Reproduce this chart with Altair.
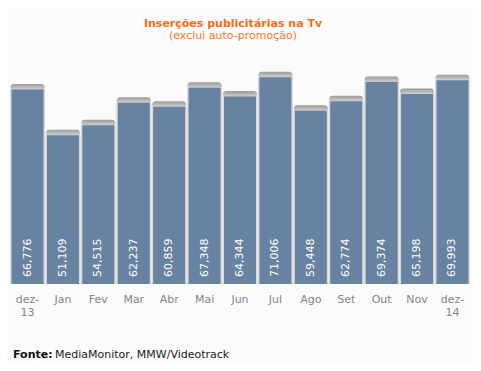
import altair as alt
import pandas as pd

months = ["dez-13", "Jan", "Fev", "Mar", "Abr", "Mai", "Jun", "Jul", "Ago", "Set", "Out", "Nov", "dez-14"]
values = [66776, 51109, 54515, 62237, 60859, 67348, 64344, 71006, 59448, 62774, 69374, 65198, 69993]

df = pd.DataFrame({"mes": months, "v": values})

FONT = "DejaVu Sans"

x = alt.X("mes:N", sort=months, title=None,
          scale=alt.Scale(paddingInner=0.09, paddingOuter=0.04),
          axis=alt.Axis(labelAngle=0, domain=False, ticks=False, labelPadding=9,
                        labelColor="#858585", labelFont=FONT, labelFontSize=11,
                        labelLineHeight=13,
                        labelExpr="indexof(datum.value,'-')>0 ? [substring(datum.value,0,indexof(datum.value,'-')+1), substring(datum.value,indexof(datum.value,'-')+1)] : datum.value"))
y = alt.Y("v:Q", scale=alt.Scale(domain=[0, 80000]), axis=None)

base = alt.Chart(df)

side = base.mark_bar(color="#d8d8d8", size=35).encode(x=x, y=y)
cap = base.mark_tick(
    size=34, thickness=7, yOffset=-2, cornerRadius=3, opacity=1,
    color=alt.Gradient(gradient="linear",
                       stops=[alt.GradientStop(color="#9a9a9a", offset=0),
                              alt.GradientStop(color="#c4c4c4", offset=0.6),
                              alt.GradientStop(color="#d8d8d8", offset=1)],
                       x1=0, x2=0, y1=0, y2=1)
).encode(x=x, y=y)
bars = base.mark_bar(color="#6883a2", size=32).encode(x=x, y=y)
labels = base.mark_text(angle=270, align="left", baseline="middle", color="white",
                        font=FONT, fontSize=11, dx=7).encode(
    x=x, y=alt.value(233), text=alt.Text("v:Q", format=","))

src_bold = alt.Chart(pd.DataFrame({"t": ["Fonte:"]})).mark_text(
    align="left", baseline="middle", font=FONT, fontSize=11, fontWeight="bold", color="#111"
).encode(x=alt.value(3), y=alt.value(304), text="t:N")
src = alt.Chart(pd.DataFrame({"t": ["MediaMonitor, MMW/Videotrack"]})).mark_text(
    align="left", baseline="middle", font=FONT, fontSize=11, color="#222"
).encode(x=alt.value(45), y=alt.value(304), text="t:N")

chart = alt.layer(side, cap, bars, labels, src_bold, src).properties(
    width=460, height=233,
    autosize=alt.AutoSizeParams(type="none"),
    padding={"left": 2, "top": 43, "right": 3, "bottom": 79},
    background="#fbfbfb",
    title=alt.TitleParams(
        text="Inserções publicitárias na Tv",
        subtitle="(exclui auto-promoção)",
        font=FONT, fontSize=11, fontWeight="bold", color="#ff6a13",
        subtitleFont=FONT, subtitleFontSize=11, subtitleColor="#ff7a2a",
        subtitlePadding=1, anchor="middle", offset=10, dx=-7,
    ),
).configure_view(stroke=None)

chart.save("out.html", embed_options={"renderer": "svg", "actions": False})
